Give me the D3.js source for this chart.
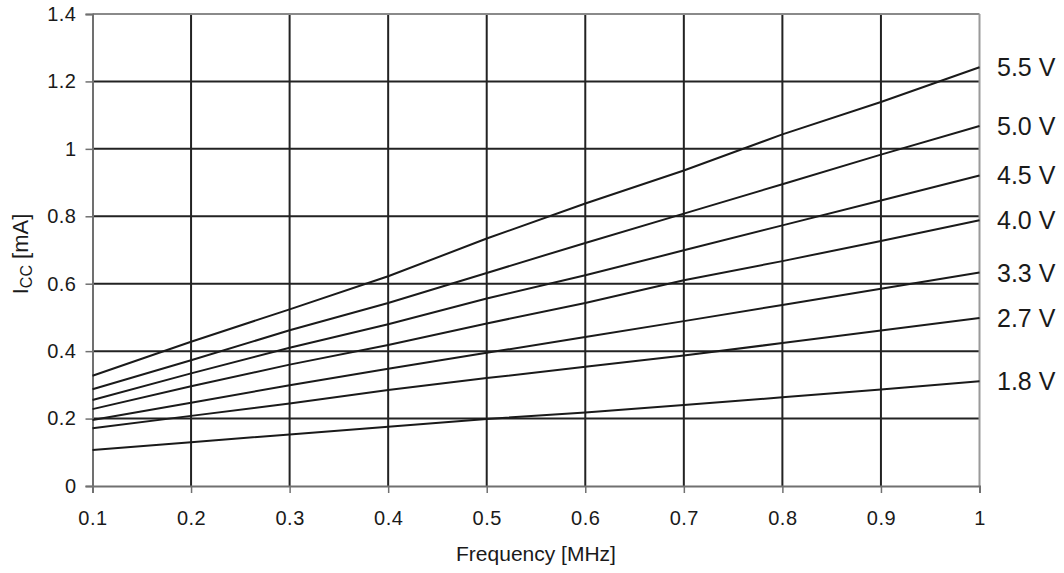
<!DOCTYPE html>
<html><head><meta charset="utf-8">
<script src="https://cdn.jsdelivr.net/npm/d3@7"></script>
<style>body{margin:0;background:#fff}svg{display:block}text{font-family:"Liberation Sans",Arial,sans-serif;fill:#1a1a1a}</style>
</head><body><svg id="c" width="1064" height="573"></svg>
<script>
const freqs = [0.1,0.2,0.3,0.4,0.5,0.6,0.7,0.8,0.9,1.0];
const seriesNames = ["5.5 V","5.0 V","4.5 V","4.0 V","3.3 V","2.7 V","1.8 V"];
const v55 = [0.327,0.428,0.524,0.622,0.734,0.838,0.936,1.043,1.139,1.242];
const v50 = [0.287,0.373,0.462,0.543,0.632,0.721,0.808,0.895,0.983,1.068];
const v45 = [0.255,0.334,0.410,0.480,0.556,0.625,0.699,0.773,0.847,0.921];
const v40 = [0.228,0.296,0.360,0.418,0.482,0.543,0.610,0.667,0.727,0.788];
const v33 = [0.196,0.247,0.299,0.348,0.395,0.442,0.489,0.537,0.585,0.633];
const v27 = [0.171,0.208,0.245,0.285,0.320,0.354,0.387,0.424,0.461,0.498];
const v18 = [0.107,0.130,0.153,0.176,0.199,0.218,0.240,0.263,0.286,0.311];
const xTicks = [0.1,0.2,0.3,0.4,0.5,0.6,0.7,0.8,0.9,1];
const yTicks = [0,0.2,0.4,0.6,0.8,1,1.2,1.4];
const xTitle = "Frequency [MHz]";

const series = [v55,v50,v45,v40,v33,v27,v18];
const svg = d3.select("#c");
const L=92.5, R=979.5, T=14, B=486;
const x = d3.scaleLinear().domain([0.1,1]).range([L,R]);
const y = d3.scaleLinear().domain([0,1.4]).range([B,T]);

// grid
const g = svg.append("g");
g.selectAll("line.v").data(xTicks.slice(1,-1)).join("line")
  .attr("x1",d=>x(d)).attr("x2",d=>x(d)).attr("y1",T).attr("y2",B)
  .attr("stroke","#222").attr("stroke-width",2);
g.selectAll("line.h").data(yTicks.slice(1,-1)).join("line")
  .attr("x1",L).attr("x2",R).attr("y1",d=>y(d)).attr("y2",d=>y(d))
  .attr("stroke","#222").attr("stroke-width",2);
// frame (gray)
svg.append("line").attr("x1",L).attr("x2",R).attr("y1",T).attr("y2",T).attr("stroke","#8a8a8a").attr("stroke-width",2);
svg.append("line").attr("x1",R).attr("x2",R).attr("y1",T).attr("y2",B).attr("stroke","#9a9a9a").attr("stroke-width",2);

// axes
const yAxis = d3.axisLeft(y).tickValues(yTicks).tickSize(7).tickPadding(9).tickFormat(d3.format("~g"));
const ya = svg.append("g").attr("transform",`translate(${L},0)`).call(yAxis);
const xAxis = d3.axisBottom(x).tickValues(xTicks).tickSize(7).tickPadding(18).tickFormat(d3.format("~g"));
const xa = svg.append("g").attr("transform",`translate(0,${B})`).call(xAxis);
[ya,xa].forEach(a=>{
  a.select(".domain").attr("stroke","#707070").attr("stroke-width",2);
  a.selectAll(".tick line").attr("stroke","#707070").attr("stroke-width",1.5);
  a.selectAll(".tick text").attr("font-size",20).attr("letter-spacing",0.5).attr("fill","#1a1a1a").attr("font-family","Liberation Sans, Arial, sans-serif");
});

// lines
const line = d3.line().x((d,i)=>x(freqs[i])).y(d=>y(d));
svg.selectAll("path.s").data(series).join("path")
  .attr("d",line).attr("fill","none").attr("stroke","#1a1a1a").attr("stroke-width",2);

// labels
svg.selectAll("text.lbl").data(series).join("text")
  .attr("x",997).attr("y",d=>y(d[d.length-1])).attr("dy","0.36em")
  .attr("font-size",25).text((d,i)=>seriesNames[i]);

// titles
svg.append("text").attr("x",536).attr("y",561).attr("text-anchor","middle").attr("font-size",21).text(xTitle);
const yt = svg.append("text").attr("transform","translate(28,254) rotate(-90)").attr("text-anchor","middle").attr("font-size",22);
yt.append("tspan").text("I");
yt.append("tspan").attr("font-size",16).attr("dy",4).text("CC");
yt.append("tspan").attr("dy",-4).text(" [mA]");
</script></body></html>
